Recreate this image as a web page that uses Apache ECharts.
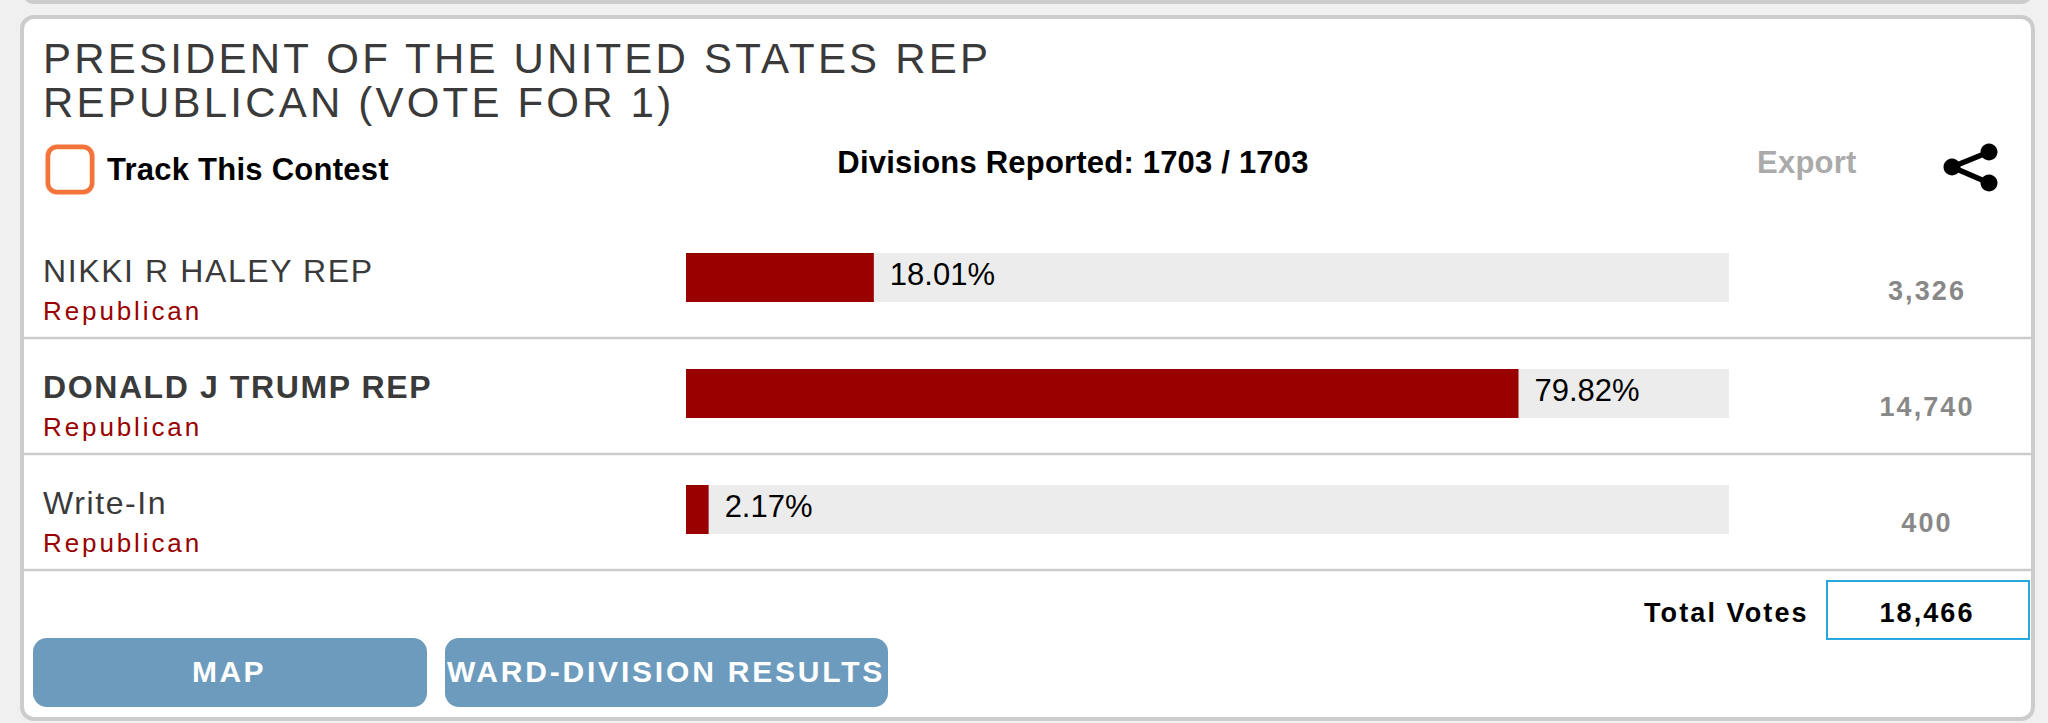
<!DOCTYPE html>
<html><head><meta charset="utf-8">
<style>html,body{margin:0;padding:0;background:#f0f0f0}#c{width:2048px;height:723px}</style>
<script src="https://cdn.jsdelivr.net/npm/echarts@6/dist/echarts.min.js"></script>
</head><body><div id="c"></div>
<script>
const titleLines = ['PRESIDENT OF THE UNITED STATES REP', 'REPUBLICAN (VOTE FOR 1)'];
const candidates = ['NIKKI R HALEY REP', 'DONALD J TRUMP REP', 'Write-In'];
const parties = ['Republican', 'Republican', 'Republican'];
const percents = [18.01, 79.82, 2.17];
const votes = ['3,326', '14,740', '400'];
const winnerIndex = 1;
const totalVotes = '18,466';
const divisions = 'Divisions Reported: 1703 / 1703';

const FF = '"Liberation Sans", Arial, sans-serif';
const spacing = {};
spacing[titleLines[0]] = 3.2; spacing[titleLines[1]] = 3.2;
candidates.forEach(c => spacing[c] = 1.6);
spacing[candidates[winnerIndex]] = 1.6;
spacing['Republican'] = 2.9;
votes.forEach(v => spacing[v] = 2.1);
spacing['Total Votes'] = 2.1; spacing[totalVotes] = 2.1;
spacing['MAP'] = 2.5; spacing['WARD-DIVISION RESULTS'] = 2.8;
spacing['Export'] = 0.25; spacing['Track This Contest'] = 0.25; spacing[divisions] = 0.2;

function txt(text, x, base, size, color, weight, align) {
  return {type:'text', silent:true, x:x, y:base - 0.3465*size, style:{
    text:text, fill:color, font:(weight||'normal')+' '+size+'px '+FF,
    textAlign:align||'left', textVerticalAlign:'middle', verticalAlign:'middle'}};
}
function box(x,y,w,h,r,fill,stroke,lw){
  return {type:'rect', silent:true, shape:{x,y,width:w,height:h,r}, style:{fill:fill||'transparent',stroke:stroke||null,lineWidth:lw||0}};
}
const line=(x1,y1,x2,y2,c,w)=>({type:'line',silent:true,shape:{x1,y1,x2,y2},style:{stroke:c,lineWidth:w}});
const dot=(cx,cy,r)=>({type:'circle',silent:true,shape:{cx,cy,r},style:{fill:'#000'}});

const graphics = [
  box(24,-60,2007,62,10,'#fff','#ccc',4),
  box(22,17,2011,702,12,'#fff','#ccc',4),
  txt(titleLines[0],43,73,42,'#3a3a3a'),
  txt(titleLines[1],43,117,42,'#3a3a3a'),
  box(48,147,44,45,9,'#fff','#fbd2bd',6),
  box(48,147,44,45,9,'#fff','#f4733a',4.5),
  txt('Track This Contest',107,180,31,'#000','bold'),
  txt(divisions,1073,173,31,'#000','bold','center'),
  txt('Export',1757,173,31,'#aaa','bold'),
  line(1952,167,1989,152,'#000',5.5), line(1952,167,1989,183,'#000',5.5),
  dot(1952,167,8.5), dot(1989,152,8.5), dot(1989,183,8.5),
  line(22,338,2033,338,'#ccc',2.5), line(22,454,2033,454,'#ccc',2.5), line(22,570,2033,570,'#ccc',2.5),
  txt('Total Votes',1644,622,27,'#000','bold'),
  box(1827,581,202,58,0,'#fff','#29a8e0',2),
  txt(totalVotes,1927,622,27,'#000','bold','center'),
  box(33,638,394,69,14,'#6c9bbd'),
  box(445,638,443,69,14,'#6c9bbd'),
  txt('MAP',229,682,30,'#fff','bold','center'),
  txt('WARD-DIVISION RESULTS',666,682,30,'#fff','bold','center')
];

const chart = echarts.init(document.getElementById('c'), null, {renderer:'svg'});
chart.setOption({
  animation:false,
  backgroundColor:'#f0f0f0',
  graphic:{elements:graphics.map(g=>Object.assign(g,{z:-1,zlevel:0}))},
  grid:{left:686,top:219.5,width:1043,height:348,containLabel:false},
  xAxis:{type:'value',min:0,max:100,show:false},
  yAxis:[{
    type:'category',inverse:true,data:candidates,position:'left',
    axisLine:{show:false},axisTick:{show:false},
    axisLabel:{
      margin:643,align:'left',padding:[25,0,0,0],
      formatter:(v,i)=>'{'+(i===winnerIndex?'w':'n')+'|'+v+'}\n{p|'+parties[i]+'}',
      rich:{
        n:{fontSize:32,fontFamily:FF,color:'#3a3a3a',lineHeight:41,align:'left'},
        w:{fontSize:32,fontWeight:'bold',fontFamily:FF,color:'#3a3a3a',lineHeight:41,align:'left'},
        p:{fontSize:26,fontFamily:FF,color:'#990000',lineHeight:38,align:'left'}
      }
    }
  },{
    type:'category',inverse:true,data:votes,position:'right',
    axisLine:{show:false},axisTick:{show:false},
    axisLabel:{margin:198,align:'center',padding:[27,0,0,0],
      formatter:v=>'{v|'+v+'}',
      rich:{v:{fontSize:27,fontWeight:'bold',fontFamily:FF,color:'#888',align:'center'}}}
  }],
  series:[{
    type:'bar',data:percents,yAxisIndex:0,barWidth:49,
    itemStyle:{color:'#990000'},
    showBackground:true,backgroundStyle:{color:'#ececec'},
    label:{show:true,position:'right',distance:16,offset:[0,-3],
      formatter:p=>p.value.toFixed(2)+'%',fontSize:31,fontFamily:FF,color:'#000'}
  }]
});
function applySpacing(){
  document.querySelectorAll('#c svg text').forEach(t=>{
    const s=spacing[t.textContent.trim()];
    if(s) t.style.letterSpacing=s+'px';
  });
}
applySpacing();
chart.on('finished',applySpacing);
</script></body></html>
